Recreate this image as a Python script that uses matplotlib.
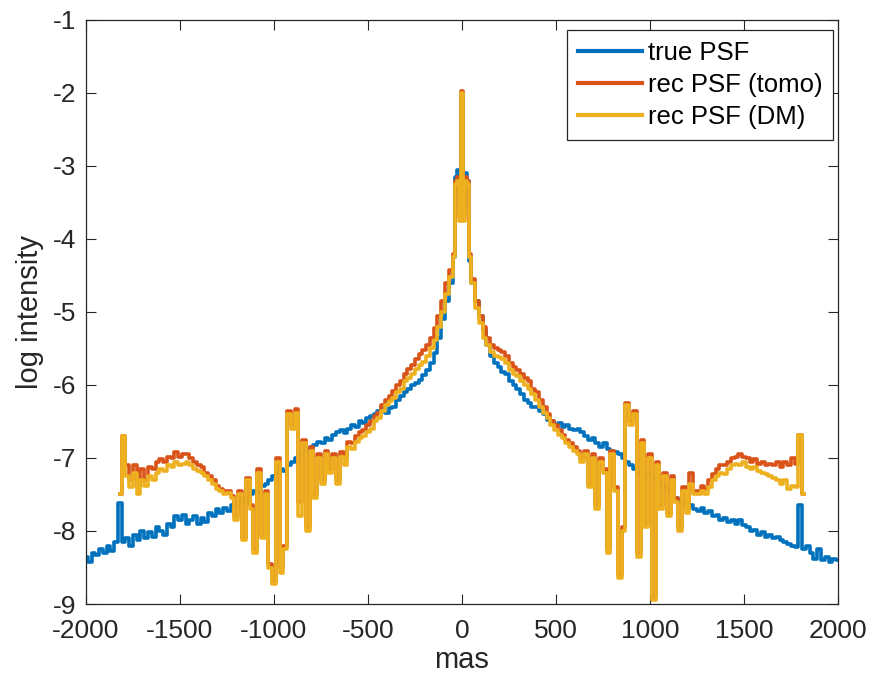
import numpy as np
import matplotlib.pyplot as plt

plt.rcParams['font.family'] = ['Liberation Sans', 'DejaVu Sans']
plt.rcParams['axes.unicode_minus'] = False

# radial cut positions (mas): 20 mas steps, 10 mas steps around the core
x_true = np.r_[np.arange(-2000, -40, 20), np.arange(-40, 41, 10), np.arange(60, 2001, 20)]
x_rec = np.r_[np.arange(-1820, -40, 20), np.arange(-40, 41, 10), np.arange(60, 1821, 20)]

# log intensity, true PSF
true_psf = [
    -8.35, -8.42, -8.3, -8.33, -8.25, -8.3, -8.2, -8.27, -8.15, -7.62,
    -8.15, -8.1, -8.2, -8.05, -8.12, -8.0, -8.1, -8.02, -8.08, -7.95,
    -8.0, -8.05, -7.9, -7.95, -7.8, -7.85, -7.78, -7.9, -7.85, -7.8,
    -7.9, -7.82, -7.88, -7.75, -7.8, -7.7, -7.75, -7.68, -7.72, -7.65,
    -7.6, -7.65, -7.55, -7.6, -7.5, -7.45, -7.48, -7.38, -7.35, -7.3,
    -7.25, -7.22, -7.15, -7.18, -7.1, -7.05, -7.0, -6.95, -6.9, -6.92,
    -6.85, -6.82, -6.78, -6.8, -6.72, -6.75, -6.68, -6.65, -6.62, -6.66,
    -6.6, -6.55, -6.58, -6.5, -6.52, -6.45, -6.42, -6.4, -6.35, -6.3,
    -6.38, -6.32, -6.3, -6.2, -6.15, -6.1, -6.05, -6.0, -5.97, -5.93,
    -5.87, -5.8, -5.7, -5.56, -5.35, -5.1, -4.85, -4.6,
    -4.25, -3.15, -3.05, -3.6, -2.05, -3.6, -3.1, -3.2, -4.3,
    -4.6, -4.85, -5.05, -5.25, -5.45, -5.6, -5.7, -5.75, -5.82, -5.85,
    -5.95, -6.0, -6.05, -6.12, -6.2, -6.25, -6.3, -6.3, -6.35, -6.4,
    -6.48, -6.5, -6.55, -6.52, -6.58, -6.55, -6.6, -6.62, -6.6, -6.65,
    -6.7, -6.75, -6.72, -6.8, -6.85, -6.8, -6.88, -6.9, -6.92, -6.95,
    -7.0, -7.05, -7.1, -7.15, -7.2, -7.18, -7.22, -7.25, -7.28, -7.3,
    -7.35, -7.4, -7.45, -7.5, -7.55, -7.6, -7.62, -7.6, -7.65, -7.7,
    -7.72, -7.68, -7.75, -7.72, -7.8, -7.78, -7.85, -7.82, -7.88, -7.85,
    -7.9, -7.85, -7.92, -7.95, -8.0, -7.98, -8.05, -8.02, -8.08, -8.05,
    -8.1, -8.08, -8.12, -8.15, -8.18, -8.2, -8.22, -7.64, -8.25, -8.2,
    -8.3, -8.38, -8.25, -8.4, -8.35, -8.42, -8.38, -8.4,
]

# reconstructed PSF, tomographic
rec_tomo = [
    -7.5, -6.7, -7.1, -7.3, -7.1, -7.4, -7.15, -7.3, -7.12, -7.15,
    -7.05, -7.02, -7.05, -6.98, -7.0, -6.92, -6.98, -6.95, -6.95, -7.0,
    -7.05, -7.1, -7.12, -7.2, -7.25, -7.3, -7.38, -7.42, -7.45, -7.45,
    -7.52, -7.8, -7.45, -8.1, -7.28, -7.65, -8.25, -7.15, -8.05, -7.45,
    -8.45, -8.7, -7.0, -8.5, -8.2, -6.35, -6.55, -6.33, -7.6, -6.75,
    -7.95, -6.85, -7.5, -6.95, -7.3, -6.9, -7.15, -6.95, -7.3, -6.92,
    -7.0, -6.78, -6.8, -6.7, -6.65, -6.62, -6.55, -6.5, -6.42, -6.38,
    -6.28, -6.2, -6.15, -6.08, -6.0, -5.95, -5.85, -5.78, -5.72, -5.65,
    -5.58, -5.52, -5.45, -5.35, -5.22, -5.05, -4.85, -4.6, -4.42,
    -4.2, -3.2, -3.15, -3.7, -1.98, -3.7, -3.15, -3.2, -4.2,
    -4.55, -4.85, -5.05, -5.2, -5.35, -5.45, -5.5, -5.52, -5.55, -5.6,
    -5.7, -5.75, -5.8, -5.85, -5.9, -5.95, -6.05, -6.1, -6.2, -6.3,
    -6.4, -6.5, -6.55, -6.62, -6.68, -6.75, -6.8, -6.85, -6.9, -7.0,
    -6.9, -7.35, -6.95, -7.65, -7.0, -7.15, -8.25, -6.9, -7.4, -8.6,
    -7.95, -6.25, -6.5, -6.35, -8.3, -6.75, -7.9, -6.95, -8.9, -7.05,
    -7.65, -7.2, -7.75, -7.25, -7.55, -7.95, -7.4, -7.7, -7.2, -7.45,
    -7.45, -7.38, -7.42, -7.3, -7.22, -7.15, -7.1, -7.1, -7.05, -7.0,
    -6.98, -6.95, -6.98, -7.0, -7.05, -7.02, -7.08, -7.05, -7.1, -7.08,
    -7.1, -7.05, -7.12, -7.05, -7.1, -7.0, -7.08, -6.68, -7.5,
]

# reconstructed PSF, DM
rec_dm = [
    -7.5, -6.7, -7.25, -7.4, -7.2, -7.5, -7.3, -7.38, -7.25, -7.3,
    -7.2, -7.15, -7.18, -7.1, -7.12, -7.05, -7.1, -7.08, -7.05, -7.1,
    -7.15, -7.18, -7.2, -7.25, -7.3, -7.35, -7.42, -7.45, -7.5, -7.48,
    -7.55, -7.85, -7.5, -8.12, -7.3, -7.7, -8.3, -7.2, -8.1, -7.5,
    -8.5, -8.72, -7.05, -8.58, -8.25, -6.4, -6.6, -6.38, -7.8, -6.8,
    -8.0, -6.9, -7.55, -7.0, -7.35, -6.95, -7.2, -7.0, -7.35, -6.98,
    -7.1, -6.85, -6.88, -6.78, -6.72, -6.7, -6.65, -6.6, -6.5, -6.45,
    -6.35, -6.28, -6.22, -6.18, -6.1, -6.05, -5.95, -5.9, -5.85, -5.78,
    -5.72, -5.68, -5.6, -5.5, -5.38, -5.2, -5.0, -4.75, -4.52,
    -4.25, -3.25, -3.2, -3.75, -2.0, -3.75, -3.2, -3.25, -4.25,
    -4.6, -4.95, -5.15, -5.35, -5.45, -5.55, -5.6, -5.62, -5.65, -5.7,
    -5.8, -5.85, -5.88, -5.95, -6.0, -6.05, -6.12, -6.2, -6.3, -6.38,
    -6.45, -6.55, -6.62, -6.68, -6.72, -6.8, -6.85, -6.9, -6.95, -7.05,
    -6.95, -7.4, -7.0, -7.7, -7.05, -7.2, -8.3, -6.95, -7.45, -8.65,
    -8.0, -6.28, -6.55, -6.4, -8.35, -6.8, -7.95, -7.0, -8.95, -7.1,
    -7.7, -7.25, -7.8, -7.3, -7.6, -8.0, -7.45, -7.75, -7.35, -7.5,
    -7.5, -7.45, -7.5, -7.4, -7.3, -7.25, -7.2, -7.22, -7.15, -7.1,
    -7.08, -7.1, -7.05, -7.12, -7.15, -7.12, -7.18, -7.2, -7.22, -7.25,
    -7.28, -7.3, -7.35, -7.3, -7.42, -7.38, -7.4, -6.68, -7.5,
]

series = [
    ("true PSF", x_true, true_psf, "#0072BD"),
    ("rec PSF (tomo)", x_rec, rec_tomo, "#D95319"),
    ("rec PSF (DM)", x_rec, rec_dm, "#EDB120"),
]

fig = plt.figure(figsize=(8.71, 6.87), dpi=100)
ax = fig.add_axes([0.0987, 0.1208, 0.8633, 0.8502])

for label, xs, ys, col in series:
    ax.step(xs, ys, where="mid", color=col, lw=2.6, label=label)

ax.set_xlim(-2000, 2000)
ax.set_ylim(-9, -1)
ax.set_xticks(np.arange(-2000, 2001, 500))
ax.set_yticks(np.arange(-9, -0.5, 1))
ax.tick_params(direction="in", top=True, right=True, length=7, width=0.8,
               labelsize=19, colors="#262626")
ax.tick_params(axis="x", pad=11)
ax.tick_params(axis="y", pad=7)
for s in ax.spines.values():
    s.set_color("#262626")
    s.set_linewidth(0.9)
ax.set_xlabel("mas", fontsize=21, color="#262626", labelpad=2)
ax.set_ylabel("log intensity", fontsize=21, color="#262626", labelpad=6)

leg = ax.legend(loc="upper right", bbox_to_anchor=(0.9934, 0.983), borderaxespad=0,
                fontsize=18.5, handlelength=2.5, fancybox=False,
                edgecolor="#262626", framealpha=1,
                labelspacing=0.32, handletextpad=0.22, borderpad=0.42)
leg.get_frame().set_linewidth(0.9)
for line in leg.get_lines():
    line.set_linewidth(3)

fig.savefig("out.png", dpi=100)
